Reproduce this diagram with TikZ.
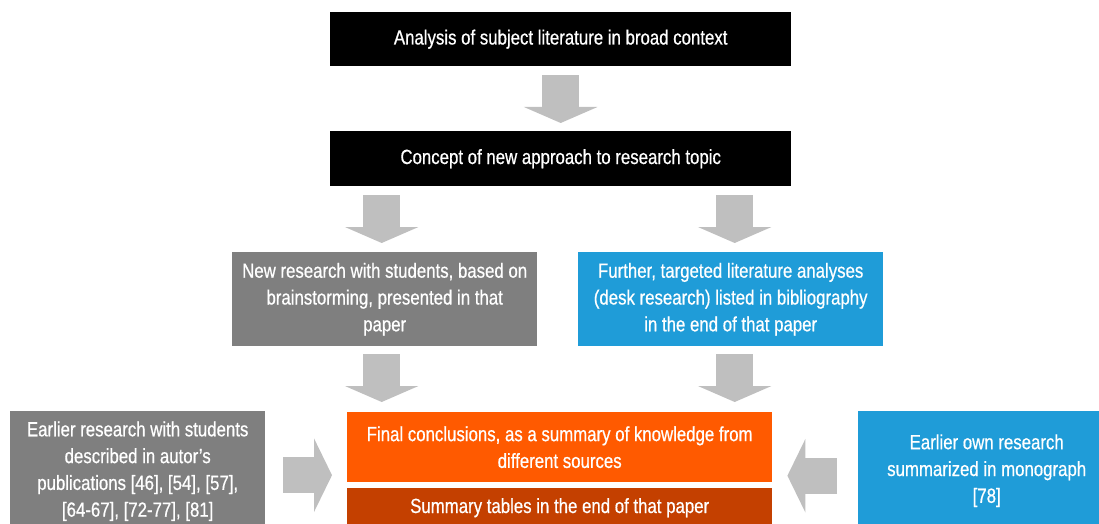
\documentclass[tikz,border=0pt]{standalone}
\usepackage{fontspec}
\setmainfont{Liberation Sans}[FakeStretch=0.82, FakeBold=0.6]
\usetikzlibrary{arrows.meta,calc}

\definecolor{boxgray}{HTML}{7F7F7F}
\definecolor{boxblue}{HTML}{1F9CD8}
\definecolor{boxorange}{HTML}{FF5A00}
\definecolor{boxrust}{HTML}{C44000}
\definecolor{arrowgray}{HTML}{BFBFBF}

\tikzset{
  box/.style={rectangle, inner sep=0pt, anchor=north west, align=center,
    text=white, font=\fontsize{20.5}{26.8}\selectfont},
  downarr/.style={draw=arrowgray, line width=37pt,
    -{Triangle[width=73pt,length=16pt]}},
  sidearr/.style={draw=arrowgray, line width=36pt,
    -{Triangle[width=73pt,length=18pt]}},
}

\begin{document}
\begin{tikzpicture}[x=1pt,y=-1pt]
\useasboundingbox (0,0) rectangle (1099,524);
\clip (0,0) rectangle (1099,524);

\node[box, fill=black, minimum width=461pt, minimum height=54pt] (b1) at (330,12)
  {Analysis of subject literature in broad context};
\node[box, fill=black, minimum width=461pt, minimum height=55pt] (b2) at (330,131)
  {Concept of new approach to research topic};
\node[box, fill=boxgray, minimum width=305pt, minimum height=94pt] (b3) at (232,252)
  {New research with students, based on\\brainstorming, presented in that\\paper};
\node[box, fill=boxblue, minimum width=305pt, minimum height=94pt] (b4) at (578,252)
  {Further, targeted literature analyses\\(desk research) listed in bibliography\\in the end of that paper};
\node[box, fill=boxorange, minimum width=425pt, minimum height=70pt] (b5) at (347,412)
  {Final conclusions, as a summary of knowledge from\\different sources};
\node[box, fill=boxrust, minimum width=425pt, minimum height=39pt] (b6) at (347,488)
  {Summary tables in the end of that paper};
\node[box, fill=boxgray, minimum width=255pt, minimum height=120pt] (b7) at (10,411)
  {Earlier research with students\\described in autor’s\\publications [46], [54], [57],\\{}[64-67], [72-77], [81]};
\node[box, fill=boxblue, minimum width=257pt, minimum height=119pt] (b8) at (858,411)
  {Earlier own research\\summarized in monograph\\{}[78]};

% block arrows between the boxes
\draw[downarr, shorten <=9pt, shorten >=8pt] (b1.south) -- (b2.north);
\draw[downarr, shorten <=9pt, shorten >=9pt]
  ([xshift=-3pt]b3.north |- b2.south) -- ([xshift=-3pt]b3.north);
\draw[downarr, shorten <=9pt, shorten >=9pt]
  ([xshift=4pt]b4.north |- b2.south) -- ([xshift=4pt]b4.north);
\draw[downarr, shorten <=8pt, shorten >=10pt]
  ([xshift=-3pt]b3.south) -- ([xshift=-3pt]b3.south |- b5.north);
\draw[downarr, shorten <=8pt, shorten >=10pt]
  ([xshift=4pt]b4.south) -- ([xshift=4pt]b4.south |- b5.north);
\draw[sidearr, shorten <=18pt, shorten >=15pt]
  ([yshift=-4pt]b7.east) -- ([yshift=-4pt]b7.east -| b5.west);
\draw[sidearr, shorten <=21pt, shorten >=15pt]
  ([yshift=-5pt]b8.west) -- ([yshift=-5pt]b8.west -| b5.east);
\end{tikzpicture}
\end{document}
